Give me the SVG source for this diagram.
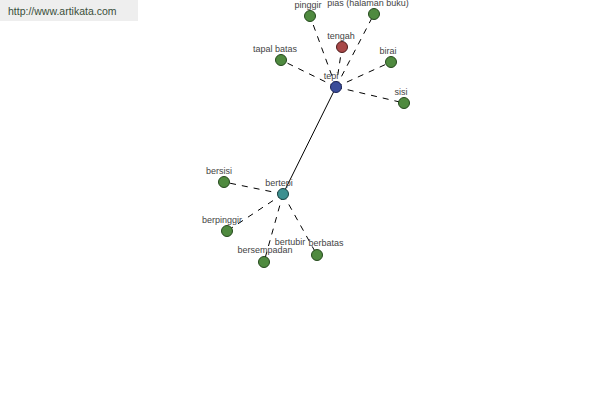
<svg xmlns="http://www.w3.org/2000/svg" width="600" height="400" viewBox="0 0 600 400">
<style>
.lbl{font-family:"Liberation Sans",Arial,sans-serif;font-size:9px;fill:#444;text-anchor:middle}
.n{stroke-width:1}
.g{fill:#4f8a3f;stroke:#24481c}
.d{stroke:#000;stroke-width:1;stroke-dasharray:6,6;fill:none}
.s{stroke:#000;stroke-width:1;fill:none}
</style>
<rect x="0" y="0" width="600" height="400" fill="#fff"/>
<rect x="0" y="0" width="138" height="21" fill="#eeeeee"/>
<text x="8" y="15" font-family="Liberation Sans,Arial,sans-serif" font-size="10.5" fill="#3a4f3a">http://www.artikata.com</text>
<g id="connectors">
<line class="s" x1="336" y1="87" x2="283" y2="194"/>
<line class="d" x1="336" y1="87" x2="310" y2="16"/>
<line class="d" x1="336" y1="87" x2="374" y2="14"/>
<line class="d" x1="336" y1="87" x2="342" y2="47"/>
<line class="d" x1="336" y1="87" x2="281" y2="60"/>
<line class="d" x1="336" y1="87" x2="391" y2="62"/>
<line class="d" x1="336" y1="87" x2="404" y2="103"/>
<line class="d" x1="283" y1="194" x2="224" y2="182"/>
<line class="d" x1="283" y1="194" x2="227" y2="231"/>
<line class="d" x1="283" y1="194" x2="264" y2="262"/>
<line class="d" x1="283" y1="194" x2="317" y2="255"/>
</g>
<g id="tepi"><circle class="n" cx="336" cy="87" r="5.5" fill="#3b4d9a" stroke="#1a2358"/><text class="lbl" x="331" y="79">tepi</text></g>
<g id="tengah"><circle class="n" cx="342" cy="47" r="5.5" fill="#a84848" stroke="#4e1c1c"/><text class="lbl" x="341" y="39">tengah</text></g>
<g id="pinggir"><circle class="n g" cx="310" cy="16" r="5.5"/><text class="lbl" x="308" y="8">pinggir</text></g>
<g id="pias"><circle class="n g" cx="374" cy="14" r="5.5"/><text class="lbl" x="368" y="6">pias (halaman buku)</text></g>
<g id="tapal-batas"><circle class="n g" cx="281" cy="60" r="5.5"/><text class="lbl" x="275" y="52">tapal batas</text></g>
<g id="birai"><circle class="n g" cx="391" cy="62" r="5.5"/><text class="lbl" x="388" y="54">birai</text></g>
<g id="sisi"><circle class="n g" cx="404" cy="103" r="5.5"/><text class="lbl" x="401" y="95">sisi</text></g>
<g id="bertepi"><circle class="n" cx="283" cy="194" r="5.5" fill="#3d9090" stroke="#1a4444"/><text class="lbl" x="279" y="186">bertepi</text></g>
<g id="bersisi"><circle class="n g" cx="224" cy="182" r="5.5"/><text class="lbl" x="219" y="174">bersisi</text></g>
<g id="berpinggir"><circle class="n g" cx="227" cy="231" r="5.5"/><text class="lbl" x="222" y="223">berpinggir</text></g>
<g id="bersempadan"><circle class="n g" cx="264" cy="262" r="5.5"/><text class="lbl" x="265" y="253">bersempadan</text></g>
<g id="berbatas"><circle class="n g" cx="317" cy="255" r="5.5"/><text class="lbl" x="326" y="246">berbatas</text></g>
<g id="bertubir"><text class="lbl" x="290" y="245">bertubir</text></g>
</svg>
